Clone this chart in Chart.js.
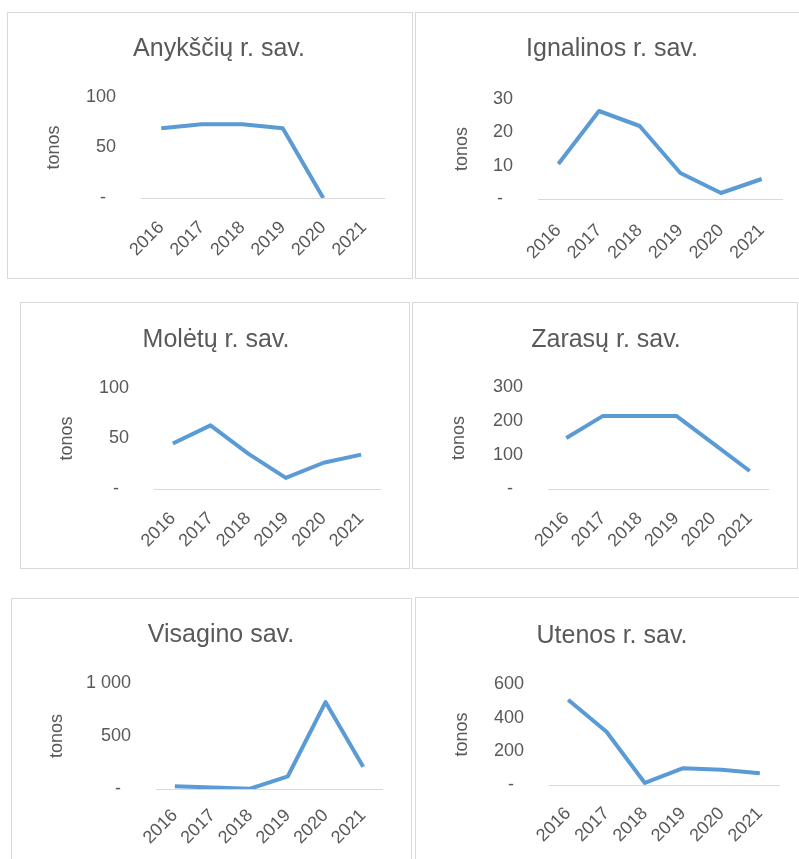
<!DOCTYPE html>
<html>
<head>
<meta charset="utf-8">
<script src="https://cdn.jsdelivr.net/npm/chart.js@4"></script>
<style>
   body { margin: 0; background: #fff; width: 799px; height: 859px; overflow: hidden; position: relative; }
   .panel { position: absolute; border: 1px solid #d9d9d9; background: #fff; }
   .panel canvas { display: block; }
</style>
</head>
<body>
<div id="charts"></div>
<script>
// Data
const years = ["2016", "2017", "2018", "2019", "2020", "2021"];
const titles = ["Anykščių r. sav.", "Ignalinos r. sav.", "Molėtų r. sav.", "Zarasų r. sav.", "Visagino sav.", "Utenos r. sav."];
const anyksciai = [69, 73, 73, 69, 0, null];
const ignalina = [10.5, 26.4, 21.9, 7.8, 1.8, 6];
const moletai = [45, 63, 35, 11, 26, 34];
const zarasai = [150, 215, 215, 215, 134, 53];
const visaginas = [25, 15, 3, 120, 820, 210];
const utena = [506, 316, 12, 100, 90, 70];
const seriesList = [anyksciai, ignalina, moletai, zarasai, visaginas, utena];
const yMax = [100, 30, 100, 300, 1000, 600];
const yStep = [50, 10, 50, 100, 500, 200];

// Page layout of each panel: box [l, t, r, b], plot area [l, t, r, b], title centre, "tonos" x
const panelLayout = [
   { box: [7, 12, 413, 279], area: [141, 97, 384, 198], title: [219, 49], yTitleX: 54, xPad: 19 },
   { box: [415, 12, 801, 279], area: [538, 99, 782, 199], title: [612, 49], yTitleX: 462, xPad: 21 },
   { box: [20, 302, 410, 569], area: [154, 388, 380, 489], title: [216, 340], yTitleX: 67, xPad: 19 },
   { box: [412, 302, 798, 569], area: [548, 387, 768, 489], title: [606, 340], yTitleX: 459, xPad: 19 },
   { box: [11, 598, 412, 872], area: [156, 683, 382, 789], title: [221, 635], yTitleX: 57, xPad: 16 },
   { box: [415, 597, 801, 872], area: [549, 684, 779, 785], title: [612, 636], yTitleX: 462, xPad: 18 }
];

const textColor = "#595959";
const fontFamily = "'Liberation Sans', Arial, sans-serif";

function formatTick(value) {
   if (value === 0) return "-  ";
   return String(value).replace(/\B(?=(\d{3})+(?!\d))/g, " ");
}

function makeChart(i) {
   const lay = panelLayout[i];
   const [bl, bt, br, bb] = lay.box;
   const [al, at, ar, ab] = lay.area;

   const div = document.createElement("div");
   div.className = "panel";
   div.style.left = bl + "px";
   div.style.top = bt + "px";
   const cw = br - bl - 2;
   const ch = bb - bt - 2;
   div.style.width = cw + "px";
   div.style.height = ch + "px";
   const canvas = document.createElement("canvas");
   canvas.width = cw;
   canvas.height = ch;
   canvas.style.width = cw + "px";
   canvas.style.height = ch + "px";
   div.appendChild(canvas);
   document.getElementById("charts").appendChild(div);

   // convert page coordinates into canvas coordinates
   const x0 = bl + 1, y0 = bt + 1;
   const padRight = cw - (ar - x0);
   const titleCx = lay.title[0] - x0;
   const padLeft = 2 * titleCx - cw + padRight;
   const yWidth = (al - x0) - padLeft;
   const xHeight = ch - (ab - y0);
   const titleCy = lay.title[1] - y0;
   const titleTop = titleCy - 12.5;
   const titleBottom = (at - y0) - titleCy - 12.5;
   const yTitlePad = (lay.yTitleX - x0) - padLeft - 9;

   return new Chart(canvas.getContext("2d"), {
      type: "line",
      data: {
         labels: years,
         datasets: [{
            data: seriesList[i],
            borderColor: "#5B9BD5",
            borderWidth: 4,
            borderJoinStyle: "round",
            pointRadius: 0,
            pointHoverRadius: 0,
            tension: 0,
            fill: false
         }]
      },
      options: {
         responsive: false,
         animation: false,
         devicePixelRatio: 1,
         layout: { padding: { left: padLeft, right: padRight, top: 0, bottom: 0 } },
         plugins: {
            legend: { display: false },
            tooltip: { enabled: false },
            title: {
               display: true,
               text: titles[i],
               color: textColor,
               font: { family: fontFamily, size: 25, weight: "normal", lineHeight: 1 },
               padding: { top: titleTop, bottom: titleBottom }
            }
         },
         scales: {
            x: {
               offset: true,
               grid: { display: false, drawTicks: false },
               border: { display: true, color: "#d9d9d9", width: 1 },
               ticks: {
                  color: textColor,
                  font: { family: fontFamily, size: 18 },
                  minRotation: 45,
                  maxRotation: 45,
                  padding: lay.xPad,
                  autoSkip: false
               },
               afterFit: (scale) => { scale.height = xHeight; }
            },
            y: {
               min: 0,
               max: yMax[i],
               grid: { display: false, drawTicks: false },
               border: { display: false },
               ticks: {
                  stepSize: yStep[i],
                  color: textColor,
                  font: { family: fontFamily, size: 18 },
                  padding: 25,
                  callback: formatTick
               },
               title: {
                  display: true,
                  text: "tonos",
                  color: textColor,
                  font: { family: fontFamily, size: 18, lineHeight: 1 },
                  padding: { top: yTitlePad, bottom: 0 }
               },
               afterFit: (scale) => { scale.width = yWidth; }
            }
         }
      }
   });
}

for (let i = 0; i < titles.length; i++) {
   makeChart(i);
}
</script>
</body>
</html>
